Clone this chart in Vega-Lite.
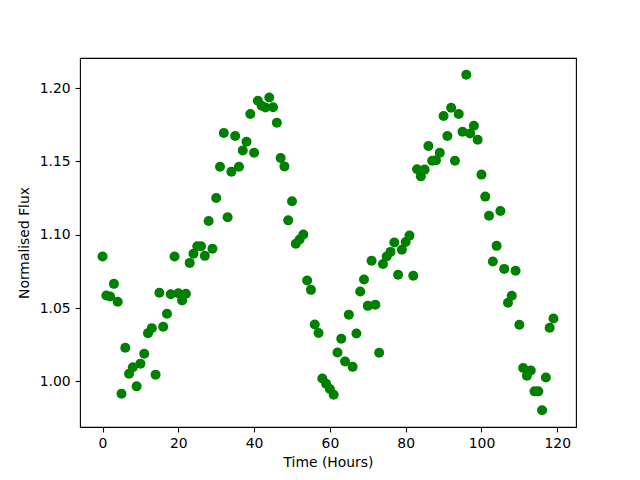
{
  "$schema": "https://vega.github.io/schema/vega-lite/v6.json",
  "width": 496,
  "height": 369,
  "autosize": {"type": "none"},
  "padding": {"left": 80, "top": 58, "right": 64, "bottom": 53},
  "background": "white",
  "config": {
    "view": {"stroke": "black", "strokeWidth": 1.1},
    "axis": {
      "labelFont": "DejaVu Sans",
      "labelFontSize": 13.9,
      "labelColor": "black",
      "titleFont": "DejaVu Sans",
      "titleFontSize": 13.9,
      "titleFontWeight": "normal",
      "titleColor": "black",
      "tickColor": "black",
      "tickSize": 4.9,
      "tickWidth": 1.1,
      "labelPadding": 4.9,
      "domain": false,
      "grid": false
    }
  },
  "data": {
    "values": [
      {"t": 0, "flux": 1.0851}, {"t": 1, "flux": 1.0586}, {"t": 2, "flux": 1.0579}, {"t": 3, "flux": 1.0665},
      {"t": 4, "flux": 1.0543}, {"t": 5, "flux": 0.9916}, {"t": 6, "flux": 1.0229}, {"t": 7, "flux": 1.0052},
      {"t": 8, "flux": 1.0097}, {"t": 9, "flux": 0.9966}, {"t": 10, "flux": 1.0121}, {"t": 11, "flux": 1.0189},
      {"t": 12, "flux": 1.0329}, {"t": 13, "flux": 1.0363}, {"t": 14, "flux": 1.0046}, {"t": 15, "flux": 1.0604},
      {"t": 16, "flux": 1.0372}, {"t": 17, "flux": 1.0461}, {"t": 18, "flux": 1.0594}, {"t": 19, "flux": 1.0851},
      {"t": 20, "flux": 1.0601}, {"t": 21, "flux": 1.0552}, {"t": 22, "flux": 1.0597}, {"t": 23, "flux": 1.0808},
      {"t": 24, "flux": 1.0870}, {"t": 25, "flux": 1.0921}, {"t": 26, "flux": 1.0921}, {"t": 27, "flux": 1.0856},
      {"t": 28, "flux": 1.1094}, {"t": 29, "flux": 1.0904}, {"t": 30, "flux": 1.1251}, {"t": 31, "flux": 1.1464},
      {"t": 32, "flux": 1.1694}, {"t": 33, "flux": 1.1119}, {"t": 34, "flux": 1.1430}, {"t": 35, "flux": 1.1673},
      {"t": 36, "flux": 1.1464}, {"t": 37, "flux": 1.1575}, {"t": 38, "flux": 1.1634}, {"t": 39, "flux": 1.1823},
      {"t": 40, "flux": 1.1559}, {"t": 41, "flux": 1.1914}, {"t": 42, "flux": 1.1879}, {"t": 43, "flux": 1.1868},
      {"t": 44, "flux": 1.1936}, {"t": 45, "flux": 1.1869}, {"t": 46, "flux": 1.1764}, {"t": 47, "flux": 1.1523},
      {"t": 48, "flux": 1.1466}, {"t": 49, "flux": 1.1098}, {"t": 50, "flux": 1.1228}, {"t": 51, "flux": 1.0938},
      {"t": 52, "flux": 1.0967}, {"t": 53, "flux": 1.1001}, {"t": 54, "flux": 1.0688}, {"t": 55, "flux": 1.0624},
      {"t": 56, "flux": 1.0388}, {"t": 57, "flux": 1.0330}, {"t": 58, "flux": 1.0020}, {"t": 59, "flux": 0.9984},
      {"t": 60, "flux": 0.9948}, {"t": 61, "flux": 0.9909}, {"t": 62, "flux": 1.0197}, {"t": 63, "flux": 1.0291},
      {"t": 64, "flux": 1.0136}, {"t": 65, "flux": 1.0455}, {"t": 66, "flux": 1.0099}, {"t": 67, "flux": 1.0326},
      {"t": 68, "flux": 1.0613}, {"t": 69, "flux": 1.0695}, {"t": 70, "flux": 1.0515}, {"t": 71, "flux": 1.0822},
      {"t": 72, "flux": 1.0522}, {"t": 73, "flux": 1.0195}, {"t": 74, "flux": 1.0801}, {"t": 75, "flux": 1.0851},
      {"t": 76, "flux": 1.0883}, {"t": 77, "flux": 1.0947}, {"t": 78, "flux": 1.0727}, {"t": 79, "flux": 1.0897},
      {"t": 80, "flux": 1.0951}, {"t": 81, "flux": 1.0994}, {"t": 82, "flux": 1.0720}, {"t": 83, "flux": 1.1446},
      {"t": 84, "flux": 1.1398}, {"t": 85, "flux": 1.1444}, {"t": 86, "flux": 1.1605}, {"t": 87, "flux": 1.1505},
      {"t": 88, "flux": 1.1507}, {"t": 89, "flux": 1.1559}, {"t": 90, "flux": 1.1809}, {"t": 91, "flux": 1.1673},
      {"t": 92, "flux": 1.1866}, {"t": 93, "flux": 1.1505}, {"t": 94, "flux": 1.1823}, {"t": 95, "flux": 1.1702},
      {"t": 96, "flux": 1.2091}, {"t": 97, "flux": 1.1691}, {"t": 98, "flux": 1.1743}, {"t": 99, "flux": 1.1648},
      {"t": 100, "flux": 1.1410}, {"t": 101, "flux": 1.1260}, {"t": 102, "flux": 1.1130}, {"t": 103, "flux": 1.0817},
      {"t": 104, "flux": 1.0924}, {"t": 105, "flux": 1.1162}, {"t": 106, "flux": 1.0767}, {"t": 107, "flux": 1.0536},
      {"t": 108, "flux": 1.0584}, {"t": 109, "flux": 1.0754}, {"t": 110, "flux": 1.0386}, {"t": 111, "flux": 1.0091},
      {"t": 112, "flux": 1.0039}, {"t": 113, "flux": 1.0075}, {"t": 114, "flux": 0.9932}, {"t": 115, "flux": 0.9932},
      {"t": 116, "flux": 0.9803}, {"t": 117, "flux": 1.0027}, {"t": 118, "flux": 1.0366}, {"t": 119, "flux": 1.0429}
    ]
  },
  "mark": {"type": "point", "shape": "circle", "filled": true, "color": "#008000", "opacity": 1, "size": 100},
  "encoding": {
    "x": {
      "field": "t",
      "type": "quantitative",
      "scale": {"domain": [-5.95, 124.95], "nice": false, "zero": false},
      "axis": {"values": [0, 20, 40, 60, 80, 100, 120], "title": "Time (Hours)", "titlePadding": 5}
    },
    "y": {
      "field": "flux",
      "type": "quantitative",
      "scale": {"domain": [0.9689, 1.2205], "nice": false, "zero": false},
      "axis": {"values": [1.0, 1.05, 1.1, 1.15, 1.2], "format": ".2f", "title": "Normalised Flux", "titlePadding": 8}
    }
  }
}
